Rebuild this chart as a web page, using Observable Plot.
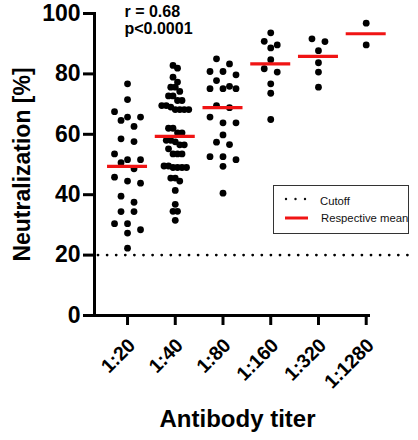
<!DOCTYPE html>
<html><head><meta charset="utf-8">
<script src="https://cdn.jsdelivr.net/npm/d3@7"></script>
<script src="https://cdn.jsdelivr.net/npm/@observablehq/plot@0.6"></script>
<style>
body{margin:0;background:#fff;}
#wrap{position:relative;width:418px;height:440px;font-family:"Liberation Sans",Arial,sans-serif;}
#wrap svg.plot text{font-weight:700;}
#legend{position:absolute;left:273px;top:185px;}
</style></head><body><div id="wrap"></div>
<script>
// ---- data ----
const titers = ["1:20", "1:40", "1:80", "1:160", "1:320", "1:1280"];
const neut_1_20 = [76.7, 71.5, 67.5, 65.7, 65.7, 64.6, 62.6, 58.5, 57.6, 53.5, 51.6, 50.6, 51.6, 48.6, 45.8, 44.5, 43.8, 39.5, 37.5, 34.4, 34.4, 30.4, 30.4, 28.4, 27.3, 22.3];
const neut_1_40 = [82.8, 81.9, 78.9, 77.3, 75.6, 75.6, 74.2, 72.7, 72.7, 71.2, 71.2, 69.5, 69, 69.5, 68.2, 68.2, 68.2, 68.2, 62, 62, 60.5, 60.5, 58, 58, 57.5, 56.5, 56.5, 55.2, 53.5, 53.5, 53.5, 49.5, 49, 49, 49, 49, 49.5, 45.5, 45.5, 44.5, 41.4, 36.8, 34.5, 34.5, 31.5];
const neut_1_80 = [85.0, 83.3, 80.8, 80.8, 79.7, 77.8, 75.9, 75.1, 75.1, 75.1, 68.8, 69.5, 65.7, 63.8, 63.8, 59.8, 56.6, 57.4, 52.6, 52.6, 51.6, 49.4, 40.5];
const neut_1_160 = [93.6, 89.6, 90.8, 88.6, 84.7, 81.7, 80.6, 76.7, 73.6, 64.9];
const neut_1_320 = [90.7, 91.6, 87.7, 83.7, 80.6, 75.6];
const neut_1_1280 = [96.8, 89.6];
const means = [49.4, 59.3, 68.8, 83.3, 85.8, 93.3];
const cutoff = 20;
const yTicks = [0, 20, 40, 60, 80, 100];
const statsText = ["r = 0.68", "p<0.0001"];
const legendLabels = ["Cutoff", "Respective mean"];
const xTitle = "Antibody titer";
const yTitle = "Neutralization [%]";

// ---- layout ----
const W = 418, H = 440, mL = 94, mR = 48, mT = 13, mB = 125;
const xDomain = [0.308, 6.09];
const xOpts = {type: "linear", domain: xDomain, range: [mL, W - mR]};
const yOpts = {type: "linear", domain: [0, 100], range: [H - mB, mT]};
const xs = Plot.scale({x: xOpts});
const ys = Plot.scale({y: yOpts});
const step = xs.apply(1) - xs.apply(0);

const groups = [neut_1_20, neut_1_40, neut_1_80, neut_1_160, neut_1_320, neut_1_1280];
const ROW = 6.5;      // px: points closer than this share a row
const MAXSP = 13;     // px: widest spacing between neighbours in a row
const MAXW = 27;      // px: widest row

// GraphPad-like scatter: bin points into rows, spread each row symmetrically
function swarm(values) {
  const pts = values.map(v => ({v, py: ys.apply(v)})).sort((a, b) => a.py - b.py);
  const rows = [];
  for (const p of pts) {
    const r = rows[rows.length - 1];
    if (r && p.py - r[0].py < ROW) r.push(p); else rows.push([p]);
  }
  const maxN = d3.max(rows, r => r.length);
  const sp = maxN > 1 ? Math.min(MAXSP, MAXW / (maxN - 1)) : 0;
  for (const r of rows) r.forEach((p, k) => { p.px = (k - (r.length - 1) / 2) * sp; });
  return pts;
}

const points = groups.flatMap((vals, i) =>
  swarm(vals).map(p => ({titer: titers[i], x: i + 1 + p.px / step, value: p.v})));
const meanRows = means.map((m, i) => ({titer: titers[i], i: i + 1, mean: m}));
const halfW = 20 / step;

const chart = Plot.plot({
  width: W, height: H,
  marginLeft: mL, marginRight: mR, marginTop: mT, marginBottom: mB,
  x: xOpts, y: yOpts,
  style: {fontFamily: "'Liberation Sans', Arial, sans-serif", color: "#000", background: "#fff", overflow: "visible"},
  marks: [
    Plot.ruleY([cutoff], {x1: xDomain[0] + 4 / step, x2: xDomain[0] + 315 / step, stroke: "#000", strokeWidth: 2.8, strokeDasharray: "0,9.1", strokeLinecap: "round"}),
    Plot.dot(points, {x: "x", y: "value", r: 3.4, fill: "#000", stroke: null}),
    Plot.ruleY(meanRows, {y: "mean", x1: d => d.i - halfW, x2: d => d.i + halfW, stroke: "#f01414", strokeWidth: 3.2}),
    Plot.frame({anchor: "left", strokeWidth: 3, stroke: "#000"}),
    Plot.ruleY([0], {strokeWidth: 3, stroke: "#000"}),
    Plot.axisY({ticks: yTicks, tickSize: 11, tickPadding: 3, fontSize: 23, strokeWidth: 3, label: null}),
    Plot.axisX({ticks: [1, 2, 3, 4, 5, 6], tickSize: 10, tickFormat: () => "", strokeWidth: 3, label: null}),
    Plot.axisX({ticks: [1, 2, 3, 4, 5, 6], tickSize: 0, tickPadding: 31, tickRotate: -45, textAnchor: "end", lineAnchor: "bottom", dx: 9, fontSize: 19.5, tickFormat: d => titers[d - 1], label: null}),
    Plot.text([statsText.join("\n")], {frameAnchor: "top-left", dx: 30, dy: -9, lineAnchor: "top", lineHeight: 1.07, fontSize: 16, textAnchor: "start"}),
    Plot.text([yTitle], {frameAnchor: "left", textAnchor: "middle", rotate: -90, dx: -72, fontSize: 23}),
    Plot.text([xTitle], {frameAnchor: "bottom", textAnchor: "middle", dx: 5, dy: 111, lineAnchor: "bottom", fontSize: 24})
  ]
});
chart.classList.add("plot");
document.getElementById("wrap").appendChild(chart);

// legend (box inside the plot area)
const lg = d3.select("#wrap").append("svg").attr("id", "legend").attr("width", 137).attr("height", 50)
  .style("font-family", "'Liberation Sans', Arial, sans-serif");
lg.append("rect").attr("x", 0.5).attr("y", 0.5).attr("width", 135).attr("height", 48).attr("fill", "#fff").attr("stroke", "#333").attr("stroke-width", 1);
lg.append("line").attr("x1", 13).attr("x2", 33).attr("y1", 14).attr("y2", 14).attr("stroke", "#111").attr("stroke-width", 2.4).attr("stroke-dasharray", "0,9.5").attr("stroke-linecap", "round");
lg.append("line").attr("x1", 12).attr("x2", 35).attr("y1", 33).attr("y2", 33).attr("stroke", "#f01414").attr("stroke-width", 3);
lg.append("text").attr("x", 47).attr("y", 20).attr("font-size", 11.3).attr("fill", "#111").text(legendLabels[0]);
lg.append("text").attr("x", 48).attr("y", 37).attr("font-size", 11.3).attr("fill", "#111").text(legendLabels[1]);
</script></body></html>
